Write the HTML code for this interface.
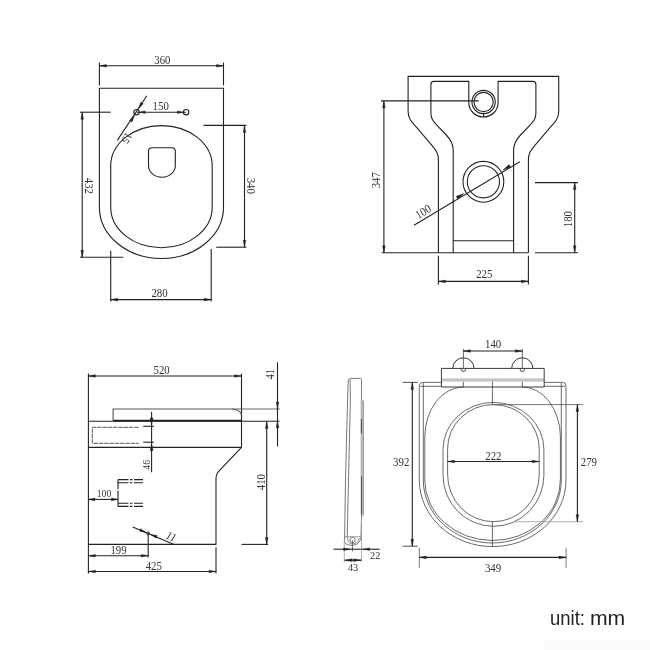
<!DOCTYPE html>
<html><head><meta charset="utf-8"><title>Dimensions</title>
<style>
html,body{margin:0;padding:0;background:#fff;}
body{width:650px;height:650px;overflow:hidden;position:relative;font-family:"Liberation Sans",sans-serif;}
svg{position:absolute;left:0;top:0;filter:grayscale(1);}
.ua,.ub{position:absolute;top:0;left:0;display:inline-block;transform-origin:0 0;}
.ua{transform:scaleX(0.95);}
.ub{left:39.5px;transform:scaleX(1.085);}
.unit{position:absolute;left:550px;top:605.3px;font-family:"Liberation Sans",sans-serif;font-size:19.5px;color:#222;line-height:26px;white-space:nowrap;letter-spacing:0px;filter:grayscale(1);}
</style></head><body>
<svg width="650" height="650" viewBox="0 0 650 650">
<rect x="544" y="640.5" width="106" height="9.5" fill="#fcfcfc"/>
<line x1="99.4" y1="62.5" x2="99.4" y2="85.4" stroke="#222" stroke-width="1.1" />
<line x1="223.5" y1="62.5" x2="223.5" y2="85.4" stroke="#222" stroke-width="1.1" />
<line x1="99.4" y1="65.8" x2="223.5" y2="65.8" stroke="#222" stroke-width="1.1" />
<polygon points="99.40,65.80 106.40,64.50 106.40,67.10" fill="#222" stroke="#222" stroke-width="0.4" stroke-linejoin="miter"/>
<polygon points="223.50,65.80 216.50,67.10 216.50,64.50" fill="#222" stroke="#222" stroke-width="0.4" stroke-linejoin="miter"/>
<text x="0" y="3.96" font-family="Liberation Serif" font-size="12" fill="#333" text-anchor="middle"  transform="translate(162.4 59.8) scale(0.9 1)">360</text>
<path d="M99.4,88.2 H223.5 V207.3 A62.05,51.2 0 0 1 99.4,207.3 Z" stroke="#222" stroke-width="1.1" fill="none" />
<path d="M110.7,166 A50.74999999999999,40.4 0 0 1 212.2,166 V207.3 A50.74999999999999,40.4 0 0 1 110.7,207.3 Z" stroke="#222" stroke-width="1.1" fill="none" />
<path d="M148.5,151.3 Q148.5,147.8 152,147.8 H171.8 Q175.3,147.8 175.3,151.3 V165.8 A13.4,11.4 0 0 1 148.5,165.8 Z" stroke="#222" stroke-width="1.1" fill="none" />
<circle cx="136.5" cy="112.2" r="2.7" stroke="#222" stroke-width="1.1" fill="none"/>
<circle cx="186.1" cy="112.2" r="2.7" stroke="#222" stroke-width="1.1" fill="none"/>
<line x1="136.5" y1="112.2" x2="186.1" y2="112.2" stroke="#222" stroke-width="1.1" />
<polygon points="139.20,112.20 145.20,110.90 145.20,113.50" fill="#222" stroke="#222" stroke-width="0.4" stroke-linejoin="miter"/>
<polygon points="183.40,112.20 177.40,113.50 177.40,110.90" fill="#222" stroke="#222" stroke-width="0.4" stroke-linejoin="miter"/>
<text x="0" y="3.96" font-family="Liberation Serif" font-size="12" fill="#333" text-anchor="middle"  transform="translate(160.7 106) scale(0.9 1)">150</text>
<line x1="146.8" y1="95.8" x2="117.3" y2="140.4" stroke="#222" stroke-width="1.1" />
<polygon points="138.20,108.90 140.85,102.26 143.27,103.86" fill="#222" stroke="#222" stroke-width="0.4" stroke-linejoin="miter"/>
<polygon points="134.60,115.40 131.95,122.04 129.53,120.44" fill="#222" stroke="#222" stroke-width="0.4" stroke-linejoin="miter"/>
<text x="0" y="3.80" font-family="Liberation Serif" font-size="11.5" fill="#333" text-anchor="middle"  transform="translate(126.9 138.0) rotate(123.5) scale(0.9 1)">15</text>
<line x1="80" y1="112.2" x2="110.7" y2="112.2" stroke="#222" stroke-width="1.1" />
<line x1="80" y1="257.3" x2="123.2" y2="257.3" stroke="#222" stroke-width="1.1" />
<line x1="82.2" y1="112.2" x2="82.2" y2="257.3" stroke="#222" stroke-width="1.1" />
<polygon points="82.20,112.20 83.50,119.20 80.90,119.20" fill="#222" stroke="#222" stroke-width="0.4" stroke-linejoin="miter"/>
<polygon points="82.20,257.30 80.90,250.30 83.50,250.30" fill="#222" stroke="#222" stroke-width="0.4" stroke-linejoin="miter"/>
<text x="0" y="3.96" font-family="Liberation Serif" font-size="12" fill="#333" text-anchor="middle"  transform="translate(89.1 185.9) rotate(90) scale(0.9 1)">432</text>
<line x1="203.4" y1="125.4" x2="246.4" y2="125.4" stroke="#222" stroke-width="1.1" />
<line x1="216.2" y1="247.2" x2="246.4" y2="247.2" stroke="#222" stroke-width="1.1" />
<line x1="244.5" y1="125.4" x2="244.5" y2="247.2" stroke="#222" stroke-width="1.1" />
<polygon points="244.50,125.40 245.80,132.40 243.20,132.40" fill="#222" stroke="#222" stroke-width="0.4" stroke-linejoin="miter"/>
<polygon points="244.50,247.20 243.20,240.20 245.80,240.20" fill="#222" stroke="#222" stroke-width="0.4" stroke-linejoin="miter"/>
<text x="0" y="3.96" font-family="Liberation Serif" font-size="12" fill="#333" text-anchor="middle"  transform="translate(250.6 185.8) rotate(90) scale(0.9 1)">340</text>
<line x1="110.7" y1="250.7" x2="110.7" y2="301.5" stroke="#222" stroke-width="1.1" />
<line x1="211.2" y1="249" x2="211.2" y2="301.5" stroke="#222" stroke-width="1.1" />
<line x1="110.7" y1="299.6" x2="211.2" y2="299.6" stroke="#222" stroke-width="1.1" />
<polygon points="110.70,299.60 117.70,298.30 117.70,300.90" fill="#222" stroke="#222" stroke-width="0.4" stroke-linejoin="miter"/>
<polygon points="211.20,299.60 204.20,300.90 204.20,298.30" fill="#222" stroke="#222" stroke-width="0.4" stroke-linejoin="miter"/>
<text x="0" y="3.96" font-family="Liberation Serif" font-size="12" fill="#333" text-anchor="middle"  transform="translate(159.5 293.2) scale(0.9 1)">280</text>
<path d="M438.4,252.7 V160 C438.4,153.5 436,150.2 432.3,145.8 L416.2,126.9 C412,122.3 408.1,118.5 408.1,111.8 V76.4 H558.70 V111.8 C558.70,118.5 554.80,122.3 550.60,126.9 L534.50,145.8 C530.80,150.2 528.40,153.5 528.40,160 V252.7" stroke="#222" stroke-width="1.1" fill="none" />
<path d="M453.2,252.7 V150 C453.2,143.5 450.5,139.5 446.3,135 L436.5,124.8 C433,121 430.9,118.5 430.9,112.9 V84.4 Q430.9,81.4 433.9,81.4 H468.8 V102.4 A14.65,14.65 0 0 0 498.1,102.4 V81.4 H532.90 Q535.90,81.4 535.90,84.4 V112.9 C535.90,118.5 533.80,121 530.30,124.8 L520.50,135 C516.30,139.5 513.60,143.5 513.60,150 V252.7" stroke="#222" stroke-width="1.1" fill="none" />
<line x1="381.7" y1="252.7" x2="528.4" y2="252.7" stroke="#222" stroke-width="1.1" />
<line x1="453.2" y1="240.7" x2="513.5999999999999" y2="240.7" stroke="#222" stroke-width="1.1" />
<circle cx="483.6" cy="102.0" r="11.65" stroke="#222" stroke-width="1.1" fill="none"/>
<circle cx="483.6" cy="102.0" r="9.6" stroke="#222" stroke-width="1.1" fill="none"/>
<line x1="483.6" y1="113.4" x2="483.6" y2="117" stroke="#222" stroke-width="1.1" />
<circle cx="483.4" cy="181.8" r="20.4" stroke="#222" stroke-width="1.1" fill="none"/>
<circle cx="483.4" cy="181.8" r="16.1" stroke="#222" stroke-width="1.1" fill="none"/>
<line x1="381" y1="100.9" x2="478.6" y2="100.9" stroke="#222" stroke-width="1.1" />
<line x1="383.9" y1="100.9" x2="383.9" y2="252.7" stroke="#222" stroke-width="1.1" />
<polygon points="383.90,100.90 385.20,107.90 382.60,107.90" fill="#222" stroke="#222" stroke-width="0.4" stroke-linejoin="miter"/>
<polygon points="383.90,252.70 382.60,245.70 385.20,245.70" fill="#222" stroke="#222" stroke-width="0.4" stroke-linejoin="miter"/>
<text x="0" y="3.96" font-family="Liberation Serif" font-size="12" fill="#333" text-anchor="middle"  transform="translate(375.9 180.2) rotate(-90) scale(0.9 1)">347</text>
<line x1="414" y1="225.2" x2="519.8" y2="161.7" stroke="#222" stroke-width="1.1" />
<polygon points="463.85,193.53 457.81,199.02 456.17,196.28" fill="#222" stroke="#222" stroke-width="0.4" stroke-linejoin="miter"/>
<polygon points="502.95,170.07 508.99,164.58 510.63,167.32" fill="#222" stroke="#222" stroke-width="0.4" stroke-linejoin="miter"/>
<text x="0" y="3.96" font-family="Liberation Serif" font-size="12" fill="#333" text-anchor="middle"  transform="translate(423.2 211.6) rotate(-31.0) scale(0.9 1)">100</text>
<line x1="535" y1="182.6" x2="578" y2="182.6" stroke="#222" stroke-width="1.1" />
<line x1="535" y1="252.7" x2="578" y2="252.7" stroke="#222" stroke-width="1.1" />
<line x1="574.7" y1="182.6" x2="574.7" y2="252.7" stroke="#222" stroke-width="1.1" />
<polygon points="574.70,182.60 576.00,189.60 573.40,189.60" fill="#222" stroke="#222" stroke-width="0.4" stroke-linejoin="miter"/>
<polygon points="574.70,252.70 573.40,245.70 576.00,245.70" fill="#222" stroke="#222" stroke-width="0.4" stroke-linejoin="miter"/>
<text x="0" y="3.96" font-family="Liberation Serif" font-size="12" fill="#333" text-anchor="middle"  transform="translate(567.9 219.1) rotate(-90) scale(0.9 1)">180</text>
<line x1="438.4" y1="255.8" x2="438.4" y2="284.5" stroke="#222" stroke-width="1.1" />
<line x1="528.4" y1="255.8" x2="528.4" y2="284.5" stroke="#222" stroke-width="1.1" />
<line x1="438.4" y1="281.4" x2="528.4" y2="281.4" stroke="#222" stroke-width="1.1" />
<polygon points="438.40,281.40 445.40,280.10 445.40,282.70" fill="#222" stroke="#222" stroke-width="0.4" stroke-linejoin="miter"/>
<polygon points="528.40,281.40 521.40,282.70 521.40,280.10" fill="#222" stroke="#222" stroke-width="0.4" stroke-linejoin="miter"/>
<text x="0" y="3.96" font-family="Liberation Serif" font-size="12" fill="#333" text-anchor="middle"  transform="translate(484.3 274.5) scale(0.9 1)">225</text>
<line x1="88.4" y1="373.6" x2="88.4" y2="573.4" stroke="#222" stroke-width="1.1" />
<line x1="241.5" y1="373.6" x2="241.5" y2="447.4" stroke="#222" stroke-width="1.1" />
<line x1="88.4" y1="376" x2="241.5" y2="376" stroke="#222" stroke-width="1.1" />
<polygon points="88.40,376.00 95.40,374.70 95.40,377.30" fill="#222" stroke="#222" stroke-width="0.4" stroke-linejoin="miter"/>
<polygon points="241.50,376.00 234.50,377.30 234.50,374.70" fill="#222" stroke="#222" stroke-width="0.4" stroke-linejoin="miter"/>
<text x="0" y="3.96" font-family="Liberation Serif" font-size="12" fill="#333" text-anchor="middle"  transform="translate(161.6 370.3) scale(0.9 1)">520</text>
<path d="M113.1,420.8 V409 H232.5 Q240,410 241.5,414.5" stroke="#555" stroke-width="1.1" fill="none" />
<line x1="232" y1="409" x2="279.7" y2="409" stroke="#666" stroke-width="1.1" />
<line x1="113.1" y1="420.6" x2="241.5" y2="420.6" stroke="#222" stroke-width="1.6" />
<line x1="88.4" y1="421.3" x2="279.6" y2="421.3" stroke="#222" stroke-width="1.1" />
<line x1="88.4" y1="447.4" x2="241.5" y2="447.4" stroke="#222" stroke-width="1.1" />
<path d="M241.5,447.4 L218.2,471.8 Q216,474.3 216,478 V544.4" stroke="#222" stroke-width="1.1" fill="none" />
<line x1="88.4" y1="544.4" x2="216.2" y2="544.4" stroke="#222" stroke-width="1.1" />
<path d="M138.7,427.3 H92.3 V443.3 H138.7" stroke="#444" stroke-width="0.9" fill="none" stroke-dasharray="4.5 0.8"/>
<line x1="143.2" y1="426.3" x2="153.8" y2="426.3" stroke="#222" stroke-width="1.1" />
<line x1="143.2" y1="442.2" x2="153.8" y2="442.2" stroke="#222" stroke-width="1.1" />
<line x1="151.6" y1="411.8" x2="151.6" y2="472.3" stroke="#222" stroke-width="1.1" />
<polygon points="151.60,424.50 150.10,418.00 153.10,418.00" fill="#222" stroke="#222" stroke-width="0.4" stroke-linejoin="miter"/>
<polygon points="151.60,444.00 153.10,450.50 150.10,450.50" fill="#222" stroke="#222" stroke-width="0.4" stroke-linejoin="miter"/>
<text x="0" y="3.56" font-family="Liberation Serif" font-size="10.8" fill="#333" text-anchor="middle"  transform="translate(146 464.8) rotate(-90) scale(0.9 1)">46</text>
<path d="M118,479.6 H143" stroke="#222" stroke-width="1.1" fill="none" stroke-dasharray="10.5 1.5 2.5 1.5 9 20"/>
<path d="M118,482.7 H143" stroke="#222" stroke-width="1.1" fill="none" stroke-dasharray="10.5 1.5 2.5 1.5 9 20"/>
<path d="M118,503.3 H143" stroke="#222" stroke-width="1.1" fill="none" stroke-dasharray="10.5 1.5 2.5 1.5 9 20"/>
<path d="M118,506.4 H143" stroke="#222" stroke-width="1.1" fill="none" stroke-dasharray="10.5 1.5 2.5 1.5 9 20"/>
<path d="M118,479.6 V506.4" stroke="#222" stroke-width="1.1" fill="none" stroke-dasharray="9.5 1.5 16 20"/>
<line x1="88.4" y1="499.4" x2="118" y2="499.4" stroke="#222" stroke-width="1.1" />
<polygon points="88.40,499.40 94.90,498.00 94.90,500.80" fill="#222" stroke="#222" stroke-width="0.4" stroke-linejoin="miter"/>
<polygon points="118.00,499.40 111.50,500.80 111.50,498.00" fill="#222" stroke="#222" stroke-width="0.4" stroke-linejoin="miter"/>
<text x="0" y="3.56" font-family="Liberation Serif" font-size="10.8" fill="#333" text-anchor="middle"  transform="translate(104 493.5) scale(0.9 1)">100</text>
<line x1="132.8" y1="527.1" x2="174" y2="544.4" stroke="#222" stroke-width="1.1" />
<circle cx="148.1" cy="533.3" r="1.5" stroke="#222" stroke-width="0.8" fill="#888"/>
<polygon points="146.07,532.45 139.54,531.22 140.62,528.64" fill="#222" stroke="#222" stroke-width="0.4" stroke-linejoin="miter"/>
<polygon points="150.68,534.38 157.22,535.61 156.13,538.19" fill="#222" stroke="#222" stroke-width="0.4" stroke-linejoin="miter"/>
<text x="0" y="3.96" font-family="Liberation Serif" font-size="12" fill="#333" text-anchor="middle" font-style="italic" transform="translate(171.2 536.6) rotate(22.8) scale(0.9 1)">11</text>
<line x1="148.2" y1="533.3" x2="148.2" y2="557.5" stroke="#222" stroke-width="1.1" />
<line x1="88.4" y1="555.7" x2="148.2" y2="555.7" stroke="#222" stroke-width="1.1" />
<polygon points="88.40,555.70 95.40,554.40 95.40,557.00" fill="#222" stroke="#222" stroke-width="0.4" stroke-linejoin="miter"/>
<polygon points="148.20,555.70 141.20,557.00 141.20,554.40" fill="#222" stroke="#222" stroke-width="0.4" stroke-linejoin="miter"/>
<text x="0" y="3.96" font-family="Liberation Serif" font-size="12" fill="#333" text-anchor="middle"  transform="translate(118.5 549.9) scale(0.9 1)">199</text>
<line x1="216" y1="547.3" x2="216" y2="573.4" stroke="#222" stroke-width="1.1" />
<line x1="88.4" y1="571.5" x2="216" y2="571.5" stroke="#222" stroke-width="1.1" />
<polygon points="88.40,571.50 95.40,570.20 95.40,572.80" fill="#222" stroke="#222" stroke-width="0.4" stroke-linejoin="miter"/>
<polygon points="216.00,571.50 209.00,572.80 209.00,570.20" fill="#222" stroke="#222" stroke-width="0.4" stroke-linejoin="miter"/>
<text x="0" y="3.96" font-family="Liberation Serif" font-size="12" fill="#333" text-anchor="middle"  transform="translate(153.8 566.2) scale(0.9 1)">425</text>
<line x1="277.5" y1="362.3" x2="277.5" y2="446.4" stroke="#222" stroke-width="1.1" />
<polygon points="277.50,409.00 276.20,402.00 278.80,402.00" fill="#222" stroke="#222" stroke-width="0.4" stroke-linejoin="miter"/>
<polygon points="277.50,420.80 278.80,427.80 276.20,427.80" fill="#222" stroke="#222" stroke-width="0.4" stroke-linejoin="miter"/>
<text x="0" y="3.96" font-family="Liberation Serif" font-size="12" fill="#333" text-anchor="middle"  transform="translate(270.1 374.2) rotate(-90) scale(0.9 1)">41</text>
<line x1="241.5" y1="544.4" x2="268.2" y2="544.4" stroke="#222" stroke-width="1.1" />
<line x1="266.7" y1="421.5" x2="266.7" y2="544.4" stroke="#222" stroke-width="1.1" />
<polygon points="266.70,421.50 268.00,428.50 265.40,428.50" fill="#222" stroke="#222" stroke-width="0.4" stroke-linejoin="miter"/>
<polygon points="266.70,544.40 265.40,537.40 268.00,537.40" fill="#222" stroke="#222" stroke-width="0.4" stroke-linejoin="miter"/>
<text x="0" y="3.96" font-family="Liberation Serif" font-size="12" fill="#333" text-anchor="middle"  transform="translate(260.9 482.1) rotate(-90) scale(0.9 1)">410</text>
<path d="M348.2,381 Q348.3,378.7 350.5,378.5 L360.3,378.3 Q361.5,378.3 361.5,379.6 V400.8" stroke="#555" stroke-width="0.8" fill="none" />
<path d="M348.2,381 L347.3,410 L345.5,480 L344.6,536 V540.5 Q344.8,545 349.5,545.1 H353.5 Q359.3,544.6 361,537.6 L361.6,514.6" stroke="#555" stroke-width="0.8" fill="none" />
<path d="M350.1,379.5 L350.4,400 L348.5,480 L347.2,537" stroke="#555" stroke-width="0.8" fill="none" />
<line x1="362.1" y1="401" x2="362.1" y2="514.6" stroke="#b8b8b8" stroke-width="3" />
<path d="M361.5,400.8 H363.5 V514.6 L361.8,517" stroke="#888" stroke-width="0.7" fill="none" />
<line x1="361.4" y1="419" x2="361.4" y2="433.5" stroke="#444" stroke-width="1" />
<line x1="361.5" y1="476" x2="361.5" y2="514.6" stroke="#555" stroke-width="1" />
<path d="M344.6,536.7 H361.2" stroke="#888" stroke-width="0.8" fill="none" />
<path d="M347.2,537 Q347.6,543.6 351.5,543.6 H354.5 Q358,543 359.4,538" stroke="#777" stroke-width="0.8" fill="none" />
<circle cx="352.5" cy="540" r="2.7" stroke="#555" stroke-width="0.8" fill="none"/>
<line x1="352.5" y1="540" x2="352.5" y2="551.4" stroke="#555" stroke-width="0.8" />
<line x1="344.3" y1="538.5" x2="344.3" y2="562.3" stroke="#999" stroke-width="0.8" />
<line x1="361.5" y1="517" x2="361.5" y2="562.3" stroke="#999" stroke-width="0.8" />
<line x1="333.5" y1="549.2" x2="361.5" y2="549.2" stroke="#222" stroke-width="1.1" />
<polygon points="350.60,549.20 343.60,550.50 343.60,547.90" fill="#222" stroke="#222" stroke-width="0.4" stroke-linejoin="miter"/>
<line x1="362" y1="549.2" x2="379.6" y2="549.2" stroke="#222" stroke-width="1.1" />
<polygon points="362.60,549.20 369.60,547.90 369.60,550.50" fill="#222" stroke="#222" stroke-width="0.4" stroke-linejoin="miter"/>
<text x="0" y="3.70" font-family="Liberation Serif" font-size="11.2" fill="#333" text-anchor="middle"  transform="translate(375.2 555.2) scale(0.92 1)">22</text>
<line x1="344.7" y1="560.2" x2="361.2" y2="560.2" stroke="#222" stroke-width="1.1" />
<polygon points="344.70,560.20 352.20,558.80 352.20,561.60" fill="#222" stroke="#222" stroke-width="0.4" stroke-linejoin="miter"/>
<polygon points="361.20,560.20 353.70,561.60 353.70,558.80" fill="#222" stroke="#222" stroke-width="0.4" stroke-linejoin="miter"/>
<text x="0" y="3.70" font-family="Liberation Serif" font-size="11.2" fill="#333" text-anchor="middle"  transform="translate(353.1 566.8) scale(0.92 1)">43</text>
<line x1="463.4" y1="349" x2="463.4" y2="368.4" stroke="#444" stroke-width="0.8" />
<line x1="522.3" y1="349" x2="522.3" y2="368.4" stroke="#444" stroke-width="0.8" />
<line x1="463.4" y1="351" x2="522.3" y2="351" stroke="#222" stroke-width="1.1" />
<polygon points="463.40,351.00 470.40,349.70 470.40,352.30" fill="#222" stroke="#222" stroke-width="0.4" stroke-linejoin="miter"/>
<polygon points="522.30,351.00 515.30,352.30 515.30,349.70" fill="#222" stroke="#222" stroke-width="0.4" stroke-linejoin="miter"/>
<text x="0" y="3.96" font-family="Liberation Serif" font-size="12" fill="#333" text-anchor="middle"  transform="translate(493.1 344.1) scale(0.9 1)">140</text>
<path d="M452.79999999999995,368.4 A10.6,10.6 0 0 1 474.0,368.4" stroke="#333" stroke-width="1" fill="none" />
<path d="M461.2,368.4 V369.3 A2.2,2.2 0 0 0 465.59999999999997,369.3 V368.4" stroke="#333" stroke-width="0.9" fill="none" />
<line x1="463.4" y1="381.6" x2="463.4" y2="387" stroke="#444" stroke-width="0.8" />
<path d="M511.69999999999993,368.4 A10.6,10.6 0 0 1 532.9,368.4" stroke="#333" stroke-width="1" fill="none" />
<path d="M520.0999999999999,368.4 V369.3 A2.2,2.2 0 0 0 524.5,369.3 V368.4" stroke="#333" stroke-width="0.9" fill="none" />
<line x1="522.3" y1="381.6" x2="522.3" y2="387" stroke="#444" stroke-width="0.8" />
<rect x="441.4" y="378.4" width="102.8" height="3.2" fill="#c4c4c4"/>
<path d="M441.4,368.4 H544.2 V387 H441.4 Z" stroke="#3a3a3a" stroke-width="1" fill="none" />
<path d="M441.4,382.4 H422.8 Q419.3,382.4 419.3,385.9 V480 A73.35,66.6 0 0 0 566.0,480 V385.9 Q566.0,382.4 562.5,382.4 H544.2" stroke="#444" stroke-width="0.8" fill="none" />
<path d="M441.4,386.3 H420.3 M423.3,383 V480 A68.99999999999997,63 0 0 0 561.3,480 V383 M565.0,386.3 H544.2" stroke="#444" stroke-width="0.8" fill="none" />
<path d="M463.4,387 A38.599999999999966,50 0 0 0 424.8,437 V480 A67.79999999999998,60.5 0 0 0 560.4,480 V437 A38.10000000000002,50 0 0 0 522.3,387" stroke="#444" stroke-width="0.8" fill="none" />
<path d="M443.0,449.4 A50.44999999999999,47 0 0 1 543.9,449.4 V475.29999999999995 A50.44999999999999,51 0 0 1 443.0,475.29999999999995 Z" stroke="#444" stroke-width="0.8" fill="none" />
<path d="M447.6,448.6 A45.80000000000001,44 0 0 1 539.2,448.6 V474.70000000000005 A45.80000000000001,47 0 0 1 447.6,474.70000000000005 Z" stroke="#444" stroke-width="0.8" fill="none" />
<line x1="492.4" y1="381.6" x2="492.4" y2="404.6" stroke="#444" stroke-width="0.8" />
<line x1="492.4" y1="521.7" x2="492.4" y2="547" stroke="#444" stroke-width="0.8" />
<line x1="447.6" y1="461.5" x2="539.2" y2="461.5" stroke="#222" stroke-width="1.1" />
<polygon points="447.60,461.50 454.60,460.20 454.60,462.80" fill="#222" stroke="#222" stroke-width="0.4" stroke-linejoin="miter"/>
<polygon points="539.20,461.50 532.20,462.80 532.20,460.20" fill="#222" stroke="#222" stroke-width="0.4" stroke-linejoin="miter"/>
<text x="0" y="3.96" font-family="Liberation Serif" font-size="12" fill="#333" text-anchor="middle"  transform="translate(493.4 455.8) scale(0.9 1)">222</text>
<line x1="402.5" y1="382.4" x2="417.8" y2="382.4" stroke="#222" stroke-width="0.8" />
<line x1="402.5" y1="546.2" x2="417.8" y2="546.2" stroke="#222" stroke-width="0.8" />
<line x1="412.3" y1="382.4" x2="412.3" y2="546.2" stroke="#222" stroke-width="1.1" />
<polygon points="412.30,382.40 413.60,389.40 411.00,389.40" fill="#222" stroke="#222" stroke-width="0.4" stroke-linejoin="miter"/>
<polygon points="412.30,546.20 411.00,539.20 413.60,539.20" fill="#222" stroke="#222" stroke-width="0.4" stroke-linejoin="miter"/>
<text x="0" y="3.96" font-family="Liberation Serif" font-size="12" fill="#333" text-anchor="middle"  transform="translate(401.2 461.8) scale(0.9 1)">392</text>
<line x1="492.4" y1="404.6" x2="583" y2="404.6" stroke="#555" stroke-width="0.8" />
<line x1="513" y1="521.7" x2="583" y2="521.7" stroke="#999" stroke-width="0.8" />
<line x1="577.4" y1="404.6" x2="577.4" y2="521.7" stroke="#222" stroke-width="1.1" />
<polygon points="577.40,404.60 578.70,411.60 576.10,411.60" fill="#222" stroke="#222" stroke-width="0.4" stroke-linejoin="miter"/>
<polygon points="577.40,521.70 576.10,514.70 578.70,514.70" fill="#222" stroke="#222" stroke-width="0.4" stroke-linejoin="miter"/>
<text x="0" y="3.96" font-family="Liberation Serif" font-size="12" fill="#333" text-anchor="middle"  transform="translate(588.9 462) scale(0.9 1)">279</text>
<line x1="419.3" y1="547.8" x2="419.3" y2="567.8" stroke="#777" stroke-width="1" />
<line x1="566.1" y1="547.8" x2="566.1" y2="567.8" stroke="#777" stroke-width="1" />
<line x1="419.3" y1="557.4" x2="566.1" y2="557.4" stroke="#222" stroke-width="1.1" />
<polygon points="419.30,557.40 426.30,556.10 426.30,558.70" fill="#222" stroke="#222" stroke-width="0.4" stroke-linejoin="miter"/>
<polygon points="566.10,557.40 559.10,558.70 559.10,556.10" fill="#222" stroke="#222" stroke-width="0.4" stroke-linejoin="miter"/>
<text x="0" y="3.96" font-family="Liberation Serif" font-size="12" fill="#333" text-anchor="middle"  transform="translate(493 568.5) scale(0.9 1)">349</text>
</svg>
<div class="unit"><span class="ua">unit:</span><span class="ub">mm</span></div>
</body></html>
